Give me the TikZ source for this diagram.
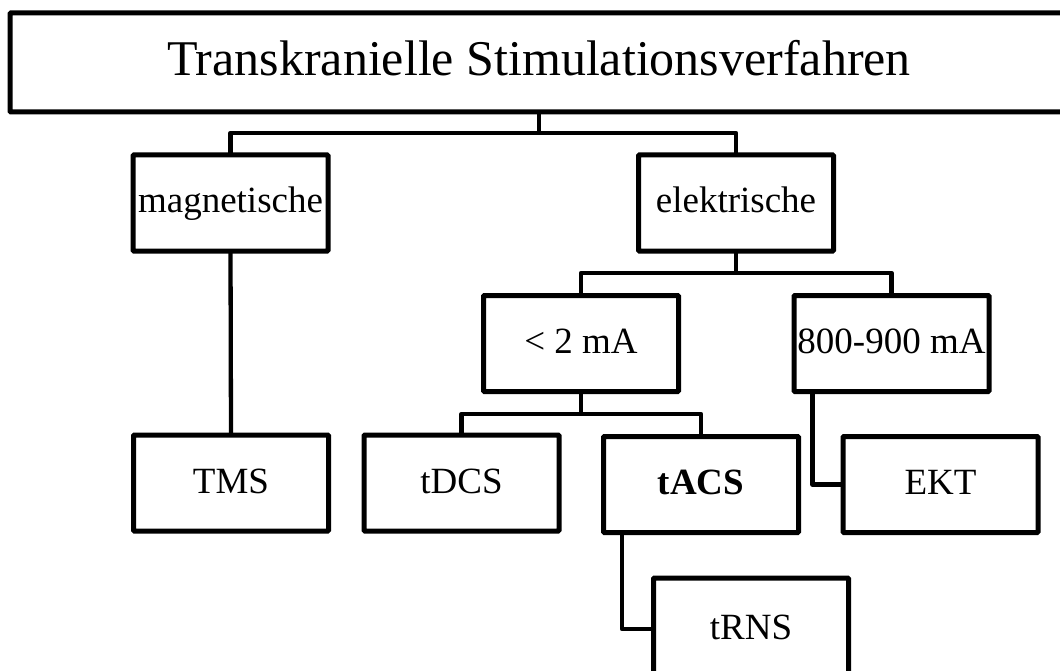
\documentclass[tikz,border=0pt]{standalone}
\usepackage{fontspec}
\setmainfont{Liberation Serif}
\begin{document}
\begin{tikzpicture}[x=1pt,y=-1pt,
  box/.style={draw=black, line width=5pt, rounded corners=1pt, outer sep=0pt, inner sep=0pt,
    minimum width=195pt, minimum height=96pt, text height=26pt, text depth=6pt,
    font=\fontsize{37}{40}\selectfont},
  titlebox/.style={box, minimum width=1058pt, minimum height=99pt, text height=35pt, text depth=8pt,
    font=\fontsize{50}{54}\selectfont},
  conn/.style={draw=black, line width=4.3pt, line join=round, line cap=butt}]
\useasboundingbox (0,0) rectangle (1060,671);
\clip (0,0) rectangle (1060,671);
\fill[white] (0,0) rectangle (1060,671);
\node[titlebox] (top) at (539,62.5) {Transkranielle Stimulationsverfahren};
\node[box] (magn) at (230.5,203) {magnetische};
\node[box] (elek) at (736,203) {elektrische};
\node[box] (low) at (581,343.5) {< 2 mA};
\node[box] (high) at (891.5,343.5) {800-900 mA};
\node[box] (tms) at (231,483) {TMS};
\node[box] (tdcs) at (461.5,483) {tDCS};
\node[box] (tacs) at (701,484.5) {\textbf{tACS}};
\node[box] (ekt) at (940.5,484.5) {EKT};
\node[box, minimum height=102pt] (trns) at (751,629) {tRNS};
\coordinate (j1) at (539,133);
\coordinate (j2) at (736,273);
\coordinate (j3) at (581,414);
\draw[conn] (top.south) -- (j1);
\draw[conn] (magn.north) |- (j1) -| (elek.north);
\draw[conn] (elek.south) -- (j2);
\draw[conn] (low.north) |- (j2) -| (high.north);
\draw[conn] (low.south) -- (j3);
\draw[conn] (tdcs.north) |- (j3) -| (tacs.north);
\draw[conn] (magn.south) -- (tms.north);
\draw[conn] ([xshift=-79pt]high.south) |- (ekt.west);
\draw[conn] ([xshift=-79pt]tacs.south) |- (trns.west);
\end{tikzpicture}
\end{document}
